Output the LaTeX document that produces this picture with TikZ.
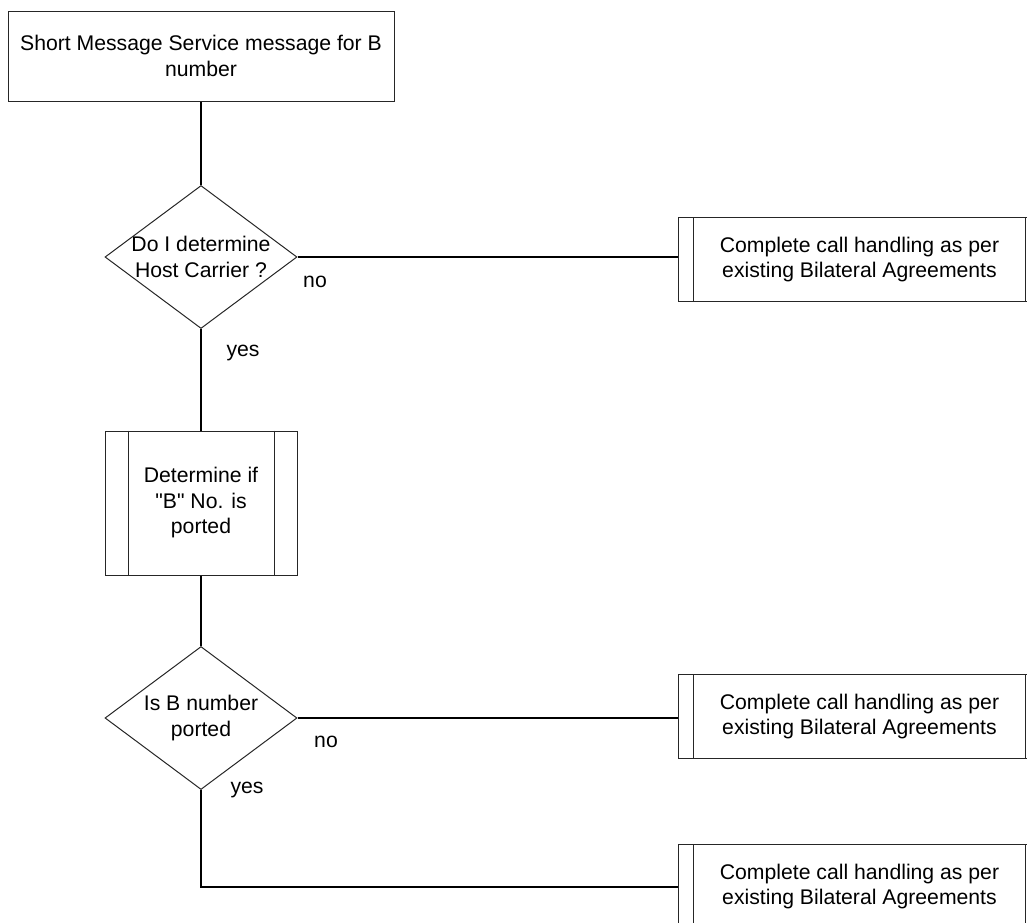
\documentclass[tikz,border=0pt]{standalone}
\usepackage{fontspec}
\setmainfont{Liberation Sans}
\usetikzlibrary{shapes.geometric}
\begin{document}
\begin{tikzpicture}[x=1pt,y=-1pt,
  every node/.style={font=\fontsize{21.2}{25.5}\selectfont},
  shapebox/.style={draw=black!85, line width=1pt, rectangle, inner sep=0pt, align=center},
  sidebox/.style={shapebox, minimum width=363pt, minimum height=84pt},
  decision/.style={draw=black!85, line width=1pt, diamond, inner sep=0pt, minimum width=192pt, minimum height=143pt},
  edgeline/.style={draw=black!85, line width=1pt},
  conn/.style={line width=2pt, black},
  lbl/.style={inner sep=0pt}
]
\useasboundingbox (0,0) rectangle (1027,922);
\clip (0,0) rectangle (1027,922);

% nodes
\node[shapebox, minimum width=386pt, minimum height=90pt] (start) at (201,56) {Short Message Service message for B\\number};
\node[decision] (d1) at (201,257) {};
\node[align=center, inner sep=0pt] (d1t) at (201,257) {Do I determine\\Host Carrier ?};
\node[shapebox, minimum width=192pt, minimum height=144pt] (p1) at (201,503) {Determine if\\\textquotedbl B\textquotedbl{} No. is\\ported};
\node[decision] (d2) at (201,718) {};
\node[align=center, inner sep=0pt] (d2t) at (201,718) {Is B number\\ported};

\node[sidebox] (r1) at (859.5,259.5) {Complete call handling as per\\existing Bilateral Agreements};
\node[sidebox] (r2) at (859.5,716.5) {Complete call handling as per\\existing Bilateral Agreements};
\node[sidebox] (r3) at (859.5,886.5) {Complete call handling as per\\existing Bilateral Agreements};

% predefined-process side bars
\draw[edgeline] ([xshift=23.5pt]p1.north west) -- ([xshift=23.5pt]p1.south west)
                ([xshift=-23.5pt]p1.north east) -- ([xshift=-23.5pt]p1.south east);
\foreach \r in {r1,r2,r3}{
  \draw[edgeline] ([xshift=16pt]\r.north west) -- ([xshift=16pt]\r.south west)
                  ([xshift=-16pt]\r.north east) -- ([xshift=-16pt]\r.south east);
}

% connectors
\draw[conn] (start.south) -- (d1.north);
\draw[conn] (d1.east) -- (d1.east -| r1.west);
\draw[conn] (d1.south) -- (p1.north);
\draw[conn] (p1.south) -- (d2.north);
\draw[conn] (d2.east) -- (d2.east -| r2.west);
\draw[conn] (d2.south) |- (r3.west);

% labels
\node[lbl] (no1) at (315,282) {no};
\node[lbl] (yes1) at (243,353) {yes};
\node[lbl] (no2) at (326,742) {no};
\node[lbl] (yes2) at (247,790) {yes};
\end{tikzpicture}
\end{document}
